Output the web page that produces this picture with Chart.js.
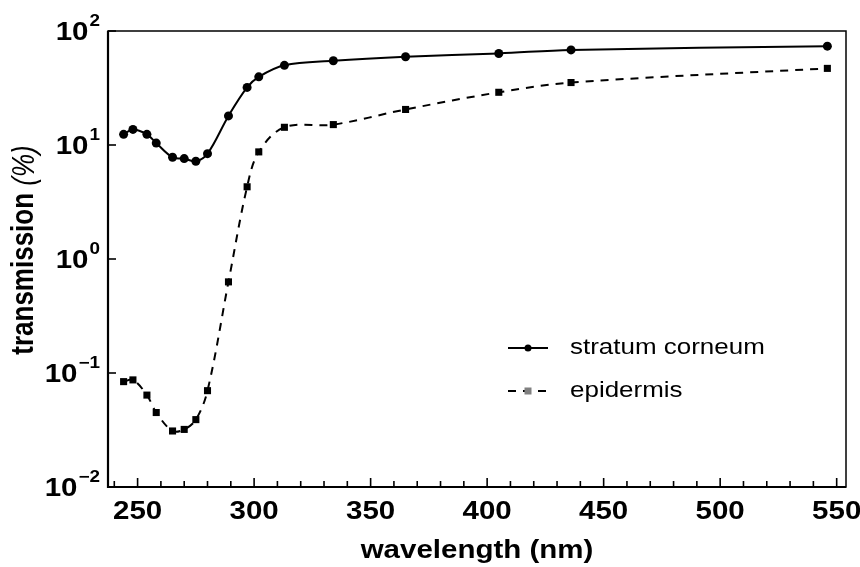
<!DOCTYPE html>
<html>
<head>
<meta charset="utf-8">
<script src="https://cdn.jsdelivr.net/npm/chart.js@4/dist/chart.umd.min.js"></script>
<style>
  html, body { margin: 0; padding: 0; background: #fff; }
  #wrap { width: 860px; height: 567px; position: relative; }
</style>
</head>
<body>
<div id="wrap"><canvas id="chart"></canvas></div>
<script>
// ============================================
// Data
// ============================================
var wavelengths = [244, 248, 254, 258, 265, 270, 275, 280, 289, 297, 302, 313, 334, 365, 405, 436, 546];
var stratumCorneum = [12.4, 13.7, 12.4, 10.4, 7.8, 7.6, 7.2, 8.4, 18, 32, 39.6, 50, 54.8, 59.4, 63.5, 68.3, 73.6];
var epidermis = [0.084, 0.087, 0.064, 0.045, 0.031, 0.032, 0.039, 0.070, 0.63, 4.3, 8.7, 14.3, 15.1, 20.5, 29, 35.3, 47];

var xTickValues = [250, 300, 350, 400, 450, 500, 550];
var xTickLabels = ['250', '300', '350', '400', '450', '500', '550'];
var xMinorTicks = [240, 260, 270, 280, 290, 310, 320, 330, 340, 360, 370, 380, 390, 410, 420, 430, 440, 460, 470, 480, 490, 510, 520, 530, 540];
var yTickValues = [0.01, 0.1, 1, 10, 100];
var yTickExponents = ['\u22122', '\u22121', '0', '1', '2'];

var seriesNames = ['stratum corneum', 'epidermis'];

function toPoints(ys) {
    return wavelengths.map(function(w, i) { return { x: w, y: ys[i] }; });
}

// ============================================
// Text helper: the reference text is slightly wide
// ============================================
var SX = 1.18;
function wideText(ctx, text, x, y, align, font) {
    ctx.save();
    ctx.font = font;
    ctx.textAlign = align;
    ctx.textBaseline = 'middle';
    ctx.translate(x, y);
    ctx.scale(SX, 1);
    ctx.fillText(text, 0, 0);
    ctx.restore();
}
function textWidth(ctx, text, font) {
    ctx.save();
    ctx.font = font;
    var w = ctx.measureText(text).width * SX;
    ctx.restore();
    return w;
}

// ============================================
// Frame, ticks, labels, legend
// ============================================
var framePlugin = {
    id: 'frame',
    afterDraw: function(chart) {
        var ctx = chart.ctx;
        var area = chart.chartArea;
        var xs = chart.scales.x;
        var ys = chart.scales.y;
        ctx.save();
        ctx.strokeStyle = '#000';
        ctx.fillStyle = '#000';

        // box
        ctx.lineWidth = 1.5;
        ctx.strokeRect(area.left, area.top, area.right - area.left, area.bottom - area.top);
        ctx.lineWidth = 2.2;
        ctx.beginPath();
        ctx.moveTo(area.left, area.top);
        ctx.lineTo(area.left, area.bottom);
        ctx.lineTo(area.right, area.bottom);
        ctx.stroke();

        // x ticks (inward)
        ctx.lineWidth = 1.6;
        xTickValues.forEach(function(v) {
            var px = xs.getPixelForValue(v);
            ctx.beginPath();
            ctx.moveTo(px, area.bottom);
            ctx.lineTo(px, area.bottom - 9);
            ctx.stroke();
        });
        xMinorTicks.forEach(function(v) {
            var px = xs.getPixelForValue(v);
            ctx.beginPath();
            ctx.moveTo(px, area.bottom);
            ctx.lineTo(px, area.bottom - 6);
            ctx.stroke();
        });
        // y ticks (inward)
        yTickValues.forEach(function(v) {
            var py = ys.getPixelForValue(v);
            ctx.beginPath();
            ctx.moveTo(area.left, py);
            ctx.lineTo(area.left + 8, py);
            ctx.stroke();
        });

        // x tick labels
        xTickValues.forEach(function(v, i) {
            wideText(ctx, xTickLabels[i], xs.getPixelForValue(v), 512, 'center', 'bold 25px "Liberation Sans", Arial, sans-serif');
        });

        // y tick labels 10^n
        var baseFont = 'bold 25px "Liberation Sans", Arial, sans-serif';
        var supFont = 'bold 16px "Liberation Sans", Arial, sans-serif';
        yTickValues.forEach(function(v, i) {
            var py = ys.getPixelForValue(v);
            var supW = textWidth(ctx, yTickExponents[i], supFont);
            var right = 100;
            wideText(ctx, yTickExponents[i], right - supW, py - 9, 'left', supFont);
            wideText(ctx, '10', right - supW - 1, py + 2, 'right', baseFont);
        });

        // x title
        wideText(ctx, 'wavelength (nm)', (area.left + area.right) / 2, 551, 'center', 'bold 25px "Liberation Sans", Arial, sans-serif');

        // y title (rotated)
        ctx.save();
        ctx.translate(25, 250);
        ctx.rotate(-Math.PI / 2);
        ctx.scale(1, SX);
        ctx.textBaseline = 'middle';
        ctx.font = 'bold 26px "Liberation Sans", Arial, sans-serif';
        var t1 = 'transmission ';
        ctx.font = 'bold 26px "Liberation Sans", Arial, sans-serif';
        var w1 = ctx.measureText(t1).width;
        ctx.font = 'italic 26px "Liberation Sans", Arial, sans-serif';
        var w2 = ctx.measureText('(%)').width;
        var start = -(w1 + w2) / 2;
        ctx.textAlign = 'left';
        ctx.font = 'bold 26px "Liberation Sans", Arial, sans-serif';
        ctx.fillText(t1, start, 0);
        ctx.font = 'italic 26px "Liberation Sans", Arial, sans-serif';
        ctx.fillText('(%)', start + w1, 0);
        ctx.restore();

        // legend
        var lx0 = 508, lx1 = 548, lmid = 528;
        var row1 = 348, row2 = 391;
        ctx.lineWidth = 2;
        ctx.setLineDash([]);
        ctx.beginPath();
        ctx.moveTo(lx0, row1);
        ctx.lineTo(lx1, row1);
        ctx.stroke();
        ctx.beginPath();
        ctx.arc(lmid, row1, 3.5, 0, Math.PI * 2);
        ctx.fill();
        ctx.setLineDash([8, 7]);
        ctx.beginPath();
        ctx.moveTo(lx0, row2);
        ctx.lineTo(lx1, row2);
        ctx.stroke();
        ctx.setLineDash([]);
        ctx.fillStyle = '#808080';
        ctx.fillRect(lmid - 3.5, row2 - 3.5, 7, 7);
        ctx.fillStyle = '#000';
        wideText(ctx, seriesNames[0], 570, row1, 'left', '22px "Liberation Sans", Arial, sans-serif');
        wideText(ctx, seriesNames[1], 570, row2, 'left', '22px "Liberation Sans", Arial, sans-serif');

        ctx.restore();
    }
};

// ============================================
// Chart
// ============================================
var canvas = document.getElementById('chart');
new Chart(canvas, {
    type: 'line',
    data: {
        datasets: [
            {
                label: seriesNames[0],
                data: toPoints(stratumCorneum),
                borderColor: '#000',
                backgroundColor: '#000',
                borderWidth: 2,
                tension: 0.35,
                pointStyle: 'circle',
                pointRadius: 4.5,
                pointBackgroundColor: '#000',
                pointBorderWidth: 0,
                fill: false
            },
            {
                label: seriesNames[1],
                data: toPoints(epidermis),
                borderColor: '#000',
                backgroundColor: '#000',
                borderWidth: 2,
                borderDash: [8, 7],
                tension: 0.35,
                pointStyle: 'rect',
                pointRadius: 5,
                pointBackgroundColor: '#000',
                pointBorderWidth: 0,
                fill: false
            }
        ]
    },
    options: {
        responsive: true,
        maintainAspectRatio: false,
        animation: false,
        layout: {
            padding: { top: 31, right: 14, left: 0, bottom: 0 }
        },
        plugins: {
            legend: { display: false },
            tooltip: { enabled: false }
        },
        scales: {
            x: {
                type: 'linear',
                min: 237.3,
                max: 554,
                grid: { display: false },
                border: { display: false },
                ticks: { display: false },
                afterFit: function(scale) { scale.height = 80; }
            },
            y: {
                type: 'logarithmic',
                min: 0.01,
                max: 100,
                grid: { display: false },
                border: { display: false },
                ticks: { display: false },
                afterFit: function(scale) { scale.width = 108; }
            }
        }
    },
    plugins: [framePlugin]
});
</script>
</body>
</html>
